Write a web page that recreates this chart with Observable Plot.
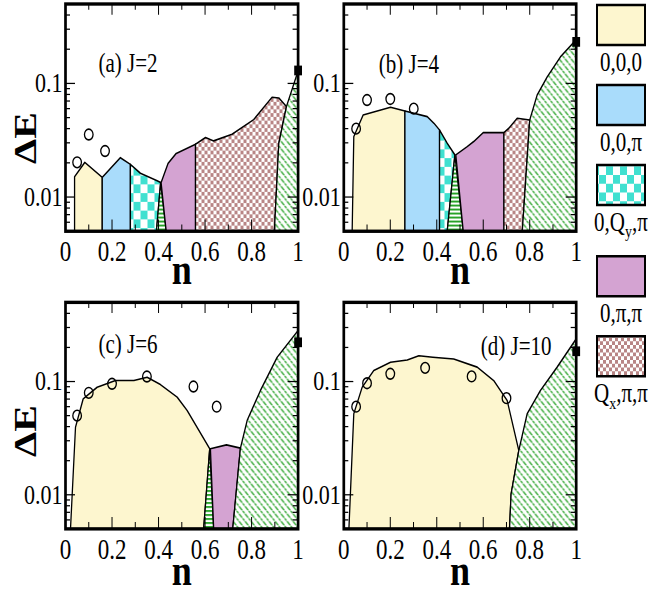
<!DOCTYPE html>
<html><head><meta charset="utf-8">
<script src="https://cdn.jsdelivr.net/npm/d3@7"></script>
<script src="https://cdn.jsdelivr.net/npm/@observablehq/plot@0.6"></script>
<style>
html,body{margin:0;padding:0;background:#fff;width:664px;height:596px;}
#wrap{position:relative;width:664px;height:596px;}
#fig{position:absolute;left:0;top:0;width:664px;height:477px;transform:scaleY(1.25);transform-origin:0 0;}
#fig svg{position:absolute;}
</style></head><body><div id="wrap"><div id="fig"></div></div>
<script>
// ---------- data ----------
const xMajor = [0, 0.2, 0.4, 0.6, 0.8, 1];
const xMinor = [0.1, 0.3, 0.5, 0.7, 0.9];
const yMajor = [0.01, 0.1];
const yMinor = [0.005, 0.006, 0.007, 0.008, 0.009, 0.02, 0.03, 0.04, 0.05, 0.06, 0.07, 0.08, 0.09, 0.2, 0.3, 0.4];

const legendPhases = ["000", "00pi", "0Qypi", "0pipi", "Qxpipi"];
const legendLabels = [["0,0,0"], ["0,0,π"], ["0,Q", "y", ",π"], ["0,π,π"], ["Q", "x", ",π,π"]];

// panel (a) J=2
const a_000   = [[0.039,0.005],[0.039,0.0151],[0.083,0.0202],[0.158,0.0149],[0.158,0.005]];
const a_00pi  = [[0.158,0.005],[0.158,0.0149],[0.236,0.0222],[0.279,0.0194],[0.279,0.005]];
const a_0Qypi = [[0.279,0.005],[0.279,0.0194],[0.322,0.0162],[0.394,0.0139],[0.409,0.0134],[0.391,0.005]];
const a_hstr  = [[0.391,0.005],[0.409,0.0134],[0.433,0.005]];
const a_0pipi = [[0.433,0.005],[0.411,0.0134],[0.441,0.0198],[0.476,0.0242],[0.559,0.0292],[0.559,0.005]];
const a_Qxpipi= [[0.559,0.005],[0.559,0.0292],[0.602,0.0334],[0.637,0.0312],[0.716,0.0357],[0.809,0.048],[0.888,0.0755],[0.917,0.0745],[0.95,0.0626],[0.917,0.0296],[0.898,0.005]];
const a_diag  = [[0.898,0.005],[0.917,0.0296],[0.95,0.0626],[1,0.129],[1,0.005]];
const a_circ  = [[0.05,0.0202],[0.1,0.0355],[0.17,0.0254]];
const a_sq    = [[1,0.13]];

// panel (b) J=4
const b_000   = [[0.036,0.005],[0.043,0.034],[0.083,0.0527],[0.201,0.0616],[0.263,0.0571],[0.263,0.005]];
const b_00pi  = [[0.263,0.005],[0.263,0.0571],[0.359,0.051],[0.388,0.0446],[0.412,0.0389],[0.412,0.005]];
const b_0Qypi = [[0.412,0.005],[0.412,0.0389],[0.445,0.0298],[0.478,0.0235],[0.445,0.005]];
const b_hstr  = [[0.445,0.005],[0.478,0.0235],[0.514,0.005]];
const b_0pipi = [[0.514,0.005],[0.482,0.0235],[0.531,0.0278],[0.559,0.0308],[0.6,0.0369],[0.689,0.0369],[0.689,0.005]];
const b_Qxpipi= [[0.689,0.005],[0.689,0.0369],[0.71,0.0403],[0.746,0.0494],[0.8,0.0477],[0.768,0.005]];
const b_diag  = [[0.768,0.005],[0.8,0.0477],[0.832,0.079],[0.875,0.114],[0.932,0.171],[1,0.243],[1,0.005]];
const b_circ  = [[0.053,0.040],[0.1,0.0714],[0.2,0.073],[0.301,0.060]];
const b_sq    = [[1,0.232]];

// panel (c) J=6
const c_000   = [[0.0215,0.005],[0.043,0.0395],[0.076,0.0703],[0.136,0.089],[0.215,0.102],[0.294,0.102],[0.351,0.109],[0.408,0.094],[0.48,0.0728],[0.523,0.0555],[0.62,0.0255],[0.594,0.005]];
const c_hstr  = [[0.594,0.005],[0.62,0.0255],[0.637,0.005]];
const c_0pipi = [[0.637,0.005],[0.623,0.0255],[0.692,0.0276],[0.752,0.0258],[0.719,0.005]];
const c_diag  = [[0.719,0.005],[0.752,0.0258],[0.781,0.0453],[0.838,0.0833],[0.91,0.164],[1,0.282],[1,0.005]];
const c_circ  = [[0.05,0.050],[0.1,0.0795],[0.2,0.0955],[0.35,0.1107],[0.55,0.0903],[0.65,0.060]];
const c_sq    = [[1,0.222]];

// panel (d) J=10
const d_000   = [[0.022,0.005],[0.043,0.0519],[0.079,0.089],[0.129,0.125],[0.201,0.148],[0.273,0.155],[0.323,0.169],[0.383,0.164],[0.473,0.158],[0.574,0.134],[0.645,0.102],[0.703,0.068],[0.753,0.0246],[0.72,0.0102],[0.713,0.005]];
const d_diag  = [[0.713,0.005],[0.72,0.0102],[0.753,0.0246],[0.789,0.052],[0.846,0.0833],[0.918,0.134],[1,0.238],[1,0.005]];
const d_circ  = [[0.053,0.060],[0.1,0.0966],[0.2,0.117],[0.35,0.132],[0.55,0.111],[0.7,0.0713]];
const d_sq    = [[1,0.185]];

// ---------- styles ----------
const FONT = "Liberation Serif";
const phaseFill = {
  "000": "#FDF6CF",
  "00pi": "#A9DCFB",
  "0Qypi": "url(#chkT)",
  "0pipi": "#D4A3D2",
  "Qxpipi": "url(#chkB)",
  "hstr": "url(#hstr)",
  "diag": "url(#diag)"
};

const fig = document.getElementById("fig");

// legend svg with pattern defs
const leg = d3.select(fig).append("svg")
  .attr("width", 79).attr("height", 340)
  .style("left", "585px").style("top", "0px").style("overflow", "visible");
const defs = leg.append("defs");
{
  const p = defs.append("pattern").attr("id", "chkT").attr("patternUnits", "userSpaceOnUse").attr("width", 14).attr("height", 14);
  p.append("rect").attr("width", 14).attr("height", 14).attr("fill", "#fff");
  p.append("rect").attr("width", 7).attr("height", 7).attr("fill", "#40E0D0");
  p.append("rect").attr("x", 7).attr("y", 7).attr("width", 7).attr("height", 7).attr("fill", "#40E0D0");
  const q = defs.append("pattern").attr("id", "chkB").attr("patternUnits", "userSpaceOnUse").attr("width", 6).attr("height", 6);
  q.append("rect").attr("width", 6).attr("height", 6).attr("fill", "#fff");
  q.append("rect").attr("width", 3).attr("height", 3).attr("fill", "#B88585");
  q.append("rect").attr("x", 3).attr("y", 3).attr("width", 3).attr("height", 3).attr("fill", "#B88585");
  const h = defs.append("pattern").attr("id", "hstr").attr("patternUnits", "userSpaceOnUse").attr("width", 4).attr("height", 3.2);
  h.append("rect").attr("width", 4).attr("height", 3.2).attr("fill", "#fff");
  h.append("rect").attr("width", 4).attr("height", 1.4).attr("fill", "#119911");
  const g = defs.append("pattern").attr("id", "diag").attr("patternUnits", "userSpaceOnUse").attr("width", 6).attr("height", 6);
  g.append("rect").attr("width", 6).attr("height", 6).attr("fill", "#fff");
  g.append("path").attr("d", "M0,0L6,6M-1,5L1,7M5,-1L7,1").attr("stroke", "#119911").attr("stroke-width", 1.1).attr("stroke-dasharray", "2.4,0.8");
}
const legTops = [4, 68, 132, 205, 269];
legendPhases.forEach((ph, i) => {
  leg.append("rect").attr("x", 12).attr("y", legTops[i]).attr("width", 48).attr("height", 32)
    .attr("fill", phaseFill[ph]).attr("stroke", "#000").attr("stroke-width", 2);
  const t = leg.append("text").attr("x", 36).attr("y", legTops[i] + 53)
    .attr("text-anchor", "middle").attr("font-family", FONT).attr("font-size", 21);
  const parts = legendLabels[i];
  t.append("tspan").text(parts[0]);
  if (parts.length > 1) {
    t.append("tspan").attr("dy", 5).attr("font-size", 14).text(parts[1]);
    t.append("tspan").attr("dy", -5).text(parts[2]);
  }
});

const fmt = d => String(d);

function panel(spec) {
  const fw = spec.width - spec.mL - spec.mR;
  const fh = spec.height - spec.mT - spec.mB;
  const marks = [];
  for (const [phase, pts] of spec.regions) {
    marks.push(Plot.line(pts, {x: d => d[0], y: d => d[1], fill: phaseFill[phase], stroke: "black", strokeWidth: 1.3, strokeLinejoin: "round"}));
  }
  marks.push(Plot.dot(spec.circles, {x: d => d[0], y: d => d[1], r: 4.3, stroke: "black", strokeWidth: 1.3, fill: "none"}));
  marks.push(Plot.tickX(xMajor, {x: d => d, insetTop: fh - 9, stroke: "black"}));
  marks.push(Plot.tickX(xMajor, {x: d => d, insetBottom: fh - 9, stroke: "black"}));
  marks.push(Plot.tickX(xMinor, {x: d => d, insetTop: fh - 5, stroke: "black"}));
  marks.push(Plot.tickX(xMinor, {x: d => d, insetBottom: fh - 5, stroke: "black"}));
  marks.push(Plot.tickY(yMajor, {y: d => d, insetRight: fw - 10, stroke: "black"}));
  marks.push(Plot.tickY(yMajor, {y: d => d, insetLeft: fw - 10, stroke: "black"}));
  marks.push(Plot.tickY(yMinor, {y: d => d, insetRight: fw - 5, stroke: "black"}));
  marks.push(Plot.tickY(yMinor, {y: d => d, insetLeft: fw - 5, stroke: "black"}));
  marks.push(Plot.frame({stroke: "black", strokeWidth: 2.7}));
  marks.push(Plot.dot(spec.square, {x: d => d[0], y: d => d[1], symbol: "square", r: 4.4, fill: "black"}));
  marks.push(Plot.text(xMajor, {x: d => d, text: fmt, frameAnchor: "bottom", lineAnchor: "middle", dy: 16.5, fontSize: 23, fontFamily: FONT, fill: "black"}));
  marks.push(Plot.text(yMajor, {y: d => d, text: fmt, frameAnchor: "left", lineAnchor: "middle", textAnchor: "end", dx: -3, fontSize: 22, fontFamily: FONT, fill: "black"}));
  marks.push(Plot.text(["n"], {text: d => d, frameAnchor: "bottom", lineAnchor: "middle", dy: spec.nDy, fontSize: 36, fontWeight: "bold", fontFamily: FONT, fill: "black"}));
  marks.push(Plot.text([spec.label], {text: d => d, frameAnchor: "top-left", lineAnchor: "middle", textAnchor: "start", dx: spec.labelDx, dy: spec.labelDy, fontSize: 21, fontFamily: FONT, fill: "black"}));
  if (spec.yLabel) {
    marks.push(Plot.text(["ΔE"], {text: d => d, frameAnchor: "left", lineAnchor: "middle", rotate: -90, dx: -40, dy: spec.yLabelDy, fontSize: 32, fontWeight: "bold", fontFamily: FONT, fill: "black"}));
  }
  const svg = Plot.plot({
    width: spec.width, height: spec.height,
    marginLeft: spec.mL, marginRight: spec.mR, marginTop: spec.mT, marginBottom: spec.mB,
    x: {domain: [0, 1], axis: null},
    y: {type: "log", domain: [0.005, 0.5], axis: null},
    style: {overflow: "visible", background: "transparent", fontFamily: FONT},
    marks
  });
  svg.style.left = spec.left + "px";
  svg.style.top = spec.top + "px";
  svg.style.position = "absolute";
  fig.appendChild(svg);
}

const rowTop = {width: 300, height: 238, mT: 2.7, mB: 53.5, nDy: 31};
const rowBot = {width: 300, height: 239, mT: 3.4, mB: 54.4, nDy: 33};
const colL = {mL: 65, mR: 2.4, yLabel: true};
const colR = {mL: 53.3, mR: 14.3, yLabel: false};

panel({...rowTop, ...colL, left: 0, top: 0, label: "(a) J=2", labelDx: 33, labelDy: 48, yLabelDy: 37,
  regions: [["000", a_000], ["00pi", a_00pi], ["0Qypi", a_0Qypi], ["hstr", a_hstr], ["0pipi", a_0pipi], ["Qxpipi", a_Qxpipi], ["diag", a_diag]],
  circles: a_circ, square: a_sq});
panel({...rowTop, ...colR, left: 290, top: 0, label: "(b) J=4", labelDx: 35, labelDy: 48.8,
  regions: [["000", b_000], ["00pi", b_00pi], ["0Qypi", b_0Qypi], ["hstr", b_hstr], ["0pipi", b_0pipi], ["Qxpipi", b_Qxpipi], ["diag", b_diag]],
  circles: b_circ, square: b_sq});
panel({...rowBot, ...colL, left: 0, top: 238, label: "(c) J=6", labelDx: 33, labelDy: 34, yLabelDy: 33,
  regions: [["000", c_000], ["hstr", c_hstr], ["0pipi", c_0pipi], ["diag", c_diag]],
  circles: c_circ, square: c_sq});
panel({...rowBot, ...colR, left: 290, top: 238, label: "(d) J=10", labelDx: 137, labelDy: 35,
  regions: [["000", d_000], ["diag", d_diag]],
  circles: d_circ, square: d_sq});
</script></body></html>
